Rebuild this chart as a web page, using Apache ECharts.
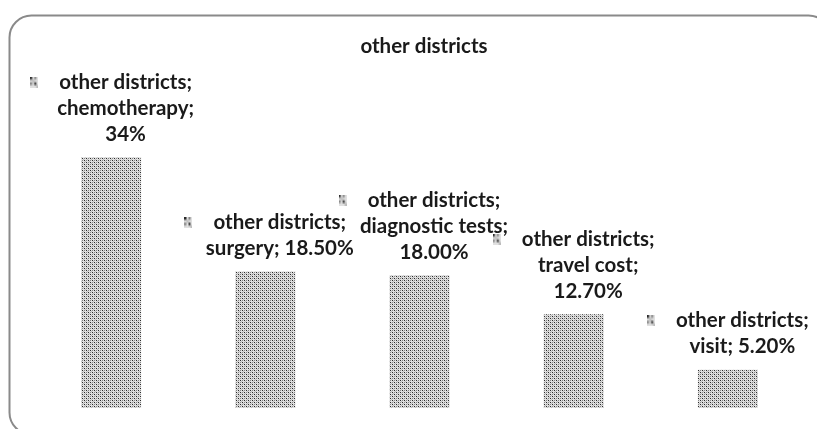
<!DOCTYPE html>
<html>
<head>
<meta charset="utf-8">
<script src="https://cdn.jsdelivr.net/npm/echarts@6/dist/echarts.min.js"></script>
<style>
  html, body { margin: 0; padding: 0; background: #fff; }
  #chart { width: 817px; height: 429px; }
</style>
</head>
<body>
<div id="chart"></div>
<script>
var seriesName = 'other districts';
var categories = ['chemotherapy', 'surgery', 'diagnostic tests', 'travel cost', 'visit'];
var values = [34, 18.5, 18, 12.7, 5.2];
var valueText = ['34%', '18.50%', '18.00%', '12.70%', '5.20%'];
var breakBeforeValue = [true, false, true, true, false];

var FONT = 'Lato';

// pick a size so "other districts;" is about 134px wide, like the Calibri original
function fitFontSize() {
    var ctx = document.createElement('canvas').getContext('2d');
    var best = 16, bestDiff = 1e9;
    for (var s = 12; s <= 22; s += 0.5) {
        ctx.font = 'bold ' + s + 'px ' + FONT;
        var d = Math.abs(ctx.measureText('other districts;').width - 134);
        if (d < bestDiff) { bestDiff = d; best = s; }
    }
    return best;
}
var fs = fitFontSize();

// dotted fill like the original bars
function makePattern() {
    var c = document.createElement('canvas');
    c.width = 4;
    c.height = 4;
    var ctx = c.getContext('2d');
    ctx.fillStyle = '#e0e0e0';
    ctx.fillRect(0, 0, 4, 4);
    ctx.fillStyle = '#2a2a2a';
    ctx.fillRect(0, 0, 1, 1);
    ctx.fillRect(2, 2, 1, 1);
    ctx.fillStyle = '#858585';
    ctx.fillRect(2, 0, 1, 1);
    ctx.fillRect(0, 2, 1, 1);
    ctx.fillStyle = '#bcbcbc';
    ctx.fillRect(1, 1, 1, 1);
    ctx.fillRect(3, 3, 1, 1);
    return c;
}
var pattern = {image: makePattern(), repeat: 'repeat'};

var chart = echarts.init(document.getElementById('chart'));
var option = {
    backgroundColor: '#fff',
    animation: false,
    title: {
        text: seriesName,
        left: 419,
        top: 31,
        textAlign: 'center',
        textStyle: {fontFamily: FONT, fontWeight: 'bold', fontSize: fs, color: '#1a1a1a'}
    },
    grid: {left: 34, right: 12, top: 113, bottom: 21},
    xAxis: {
        type: 'category',
        data: categories,
        show: false
    },
    yAxis: {
        type: 'value',
        min: 0,
        max: 40,
        show: false
    },
    series: [
        {
            name: seriesName,
            type: 'bar',
            barWidth: 60,
            data: values,
            itemStyle: {color: pattern},
            label: {
                show: true,
                position: 'top',
                distance: 10,
                align: 'center',
                lineHeight: 26,
                fontFamily: FONT,
                fontWeight: 'bold',
                fontSize: fs,
                color: '#1a1a1a',
                formatter: function (p) {
                    var i = p.dataIndex;
                    var lines = [seriesName + ';'];
                    if (breakBeforeValue[i]) {
                        lines.push(categories[i] + ';', valueText[i]);
                    } else {
                        lines.push(categories[i] + '; ' + valueText[i]);
                    }
                    return lines.map(function (t, k) {
                        return (k === 0 ? '{m|}{g|}' : '{p|}') + t;
                    }).join('\n');
                },
                rich: {
                    m: {width: 8, height: 11, backgroundColor: pattern, lineHeight: 26},
                    g: {width: 21, lineHeight: 26},
                    p: {width: 29, lineHeight: 26}
                }
            }
        }
    ],
    graphic: [
        {
            type: 'rect',
            shape: {x: 9.5, y: 15.5, width: 821, height: 419, r: 22},
            style: {fill: 'none', stroke: '#8a8a8a', lineWidth: 2},
            silent: true
        }
    ]
};
chart.setOption(option);
</script>
</body>
</html>
